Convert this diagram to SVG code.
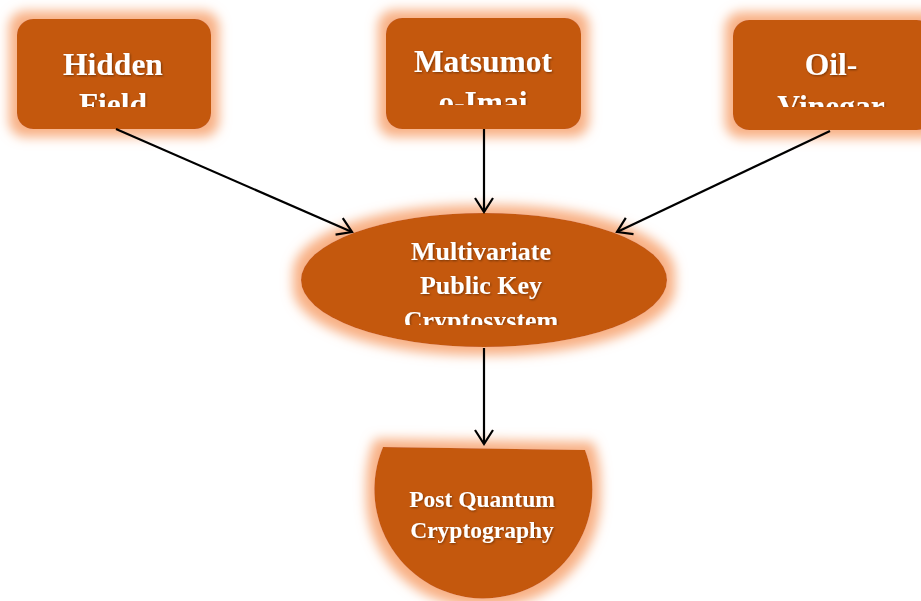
<svg xmlns="http://www.w3.org/2000/svg" width="921" height="601" viewBox="0 0 921 601">
<style>
.node{fill:#c45911;filter:url(#glow)}
.t{font-family:"Liberation Serif","Times New Roman",serif;font-weight:bold;fill:#ffffff;text-anchor:middle;filter:url(#ts)}
.big{font-size:31.5px}
.mid{font-size:26px}
.sm{font-size:23.5px}
.edge{stroke:#000;stroke-width:2.2;fill:none;marker-end:url(#arr)}
</style>
<defs>
<filter id="glow" x="-30%" y="-30%" width="160%" height="160%">
<feMorphology in="SourceAlpha" operator="dilate" radius="8" result="d"/>
<feGaussianBlur in="d" stdDeviation="6" result="b"/>
<feFlood flood-color="#f8b084"/>
<feComposite in2="b" operator="in" result="g"/>
<feMerge><feMergeNode in="g"/><feMergeNode in="SourceGraphic"/></feMerge>
</filter>
<filter id="ts" x="-10%" y="-20%" width="120%" height="140%">
<feGaussianBlur in="SourceAlpha" stdDeviation="0.8"/>
<feOffset dx="1.2" dy="1.2" result="o"/>
<feFlood flood-color="#000" flood-opacity="0.4"/>
<feComposite in2="o" operator="in" result="s"/>
<feMerge><feMergeNode in="s"/><feMergeNode in="SourceGraphic"/></feMerge>
</filter>
<marker id="arr" markerWidth="22" markerHeight="22" refX="17" refY="11" orient="auto" markerUnits="userSpaceOnUse">
<path d="M3,2 L17,11 L3,20" fill="none" stroke="#000" stroke-width="2.2"/>
</marker>
<clipPath id="c1"><rect x="0" y="0" width="921" height="107"/></clipPath>
<clipPath id="c2"><rect x="0" y="0" width="921" height="105"/></clipPath>
<clipPath id="c3"><rect x="0" y="0" width="921" height="107"/></clipPath>
<clipPath id="c4"><rect x="0" y="0" width="921" height="325"/></clipPath>
</defs>
<g id="n-hidden">
<rect class="node" x="17" y="19" width="194" height="110" rx="16"/>
<g clip-path="url(#c1)"><text class="t big" x="113" y="75">Hidden</text><text class="t big" x="113" y="115">Field</text></g>
</g>
<g id="n-matsumoto">
<rect class="node" x="386" y="18" width="195" height="111" rx="16"/>
<g clip-path="url(#c2)"><text class="t big" x="483" y="72">Matsumot</text><text class="t big" x="483" y="113">o-Imai</text></g>
</g>
<g id="n-oil">
<rect class="node" x="733" y="20" width="200" height="110" rx="16"/>
<g clip-path="url(#c3)"><text class="t big" x="831" y="75">Oil-</text><text class="t big" x="831" y="117">Vinegar</text></g>
</g>
<g id="n-mpkc">
<ellipse class="node" cx="484" cy="280" rx="183" ry="67"/>
<g clip-path="url(#c4)"><text class="t mid" x="481" y="260">Multivariate</text><text class="t mid" x="481" y="294">Public Key</text><text class="t mid" x="481" y="329">Cryptosystem</text></g>
</g>
<g id="n-pqc">
<path class="node" d="M383,447 L585,450 A109,109 0 1 1 383,447 Z"/>
<text class="t sm" x="482" y="507">Post Quantum</text>
<text class="t sm" x="482" y="538">Cryptography</text>
</g>
<g id="connectors">
<line class="edge" x1="116" y1="129" x2="352" y2="232"/>
<line class="edge" x1="484" y1="129" x2="484" y2="212"/>
<line class="edge" x1="830" y1="131" x2="617" y2="232"/>
<line class="edge" x1="484" y1="348" x2="484" y2="444"/>
</g>
</svg>
